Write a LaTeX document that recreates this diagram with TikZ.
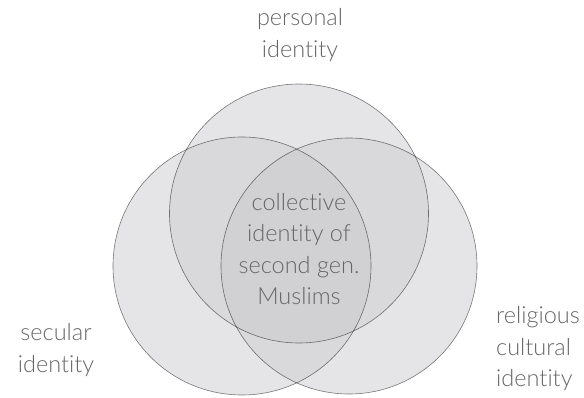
\documentclass[tikz,border=0pt]{standalone}
\usepackage{fontspec}
\setmainfont{Lato Light}[Ligatures=NoCommon]
\definecolor{cone}{HTML}{E5E5E7}
\definecolor{ctwo}{HTML}{D9D9DB}
\definecolor{cthree}{HTML}{D1D1D3}
\definecolor{txt}{HTML}{666666}
\begin{document}
\begin{tikzpicture}[x=1pt,y=-1pt,
  lbl/.style={text=txt, font=\fontsize{23.5}{31.5}\selectfont, align=center, inner sep=0pt},
  ring/.style={draw=black, draw opacity=0.5, line width=0.6pt}]
\useasboundingbox (0,0) rectangle (584,398);
\coordinate (T) at (299,213.5);
\coordinate (L) at (242,266);
\coordinate (R) at (349,266);
% single areas
\fill[cone] (T) circle (129.5pt);
\fill[cone] (L) circle (129pt);
\fill[cone] (R) circle (128pt);
% pairwise overlaps
\begin{scope}
  \clip (T) circle (129.5pt);
  \fill[ctwo] (L) circle (129pt);
  \fill[ctwo] (R) circle (128pt);
\end{scope}
\begin{scope}
  \clip (L) circle (129pt);
  \fill[ctwo] (R) circle (128pt);
\end{scope}
% triple overlap
\begin{scope}
  \clip (T) circle (129.5pt);
  \clip (L) circle (129pt);
  \fill[cthree] (R) circle (128pt);
\end{scope}
% outlines
\draw[ring] (T) circle (129.5pt);
\draw[ring] (L) circle (129pt);
\draw[ring] (R) circle (128pt);
% labels
\node[lbl] (pers) at (300,35) {personal\\identity};
\node[lbl] (core) at (299,249) {collective\\identity of\\second gen.\\Muslims};
\node[lbl] (sec) at (56,350) {secular\\identity};
\node[lbl, align=left, anchor=west] (rel) at (496,349) {religious\\cultural\\identity};
\end{tikzpicture}
\end{document}
